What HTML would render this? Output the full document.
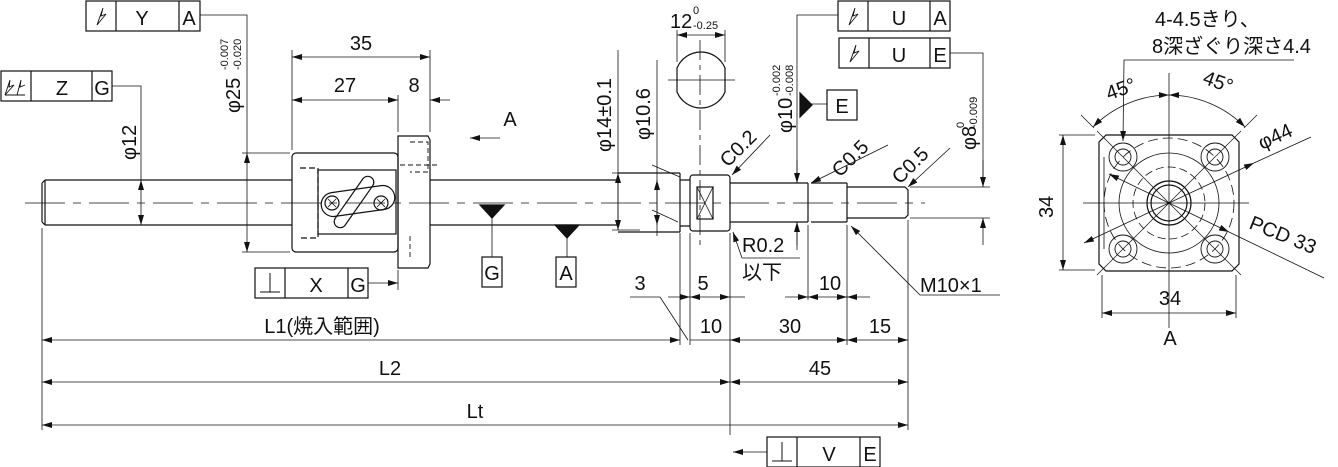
<!DOCTYPE html>
<html><head><meta charset="utf-8"><style>
html,body{margin:0;padding:0;background:#fff}
svg{display:block}
text{font-family:"Liberation Sans","Noto Sans CJK JP",sans-serif;fill:#111}
</style></head><body>
<svg width="1338" height="467" viewBox="0 0 1338 467" xmlns="http://www.w3.org/2000/svg">
<defs>
<marker id="a" viewBox="0 0 10 6" refX="10" refY="3" markerWidth="10" markerHeight="6" orient="auto-start-reverse" markerUnits="userSpaceOnUse"><path d="M0,0L10,3L0,6z" fill="#111"/></marker>
</defs>
<g stroke="#111" stroke-width="1.2" fill="none">
<line x1="25" y1="203" x2="925" y2="203" stroke-width="0.8" stroke-dasharray="40,8,8,8"/>
<path d="M45,180 H292 M45,225 H292 M42,183 V222 M42,183 L45,180 M42,222 L45,225"/>
<line x1="45" y1="180" x2="45" y2="225"/>
<path d="M430,180 H618 M430,225 H618"/>
<rect x="292" y="153" width="106" height="99" rx="4"/>
<path d="M300,168 H318 V238 H300" stroke-dasharray="6,3"/>
<rect x="318" y="170" width="78" height="64"/>
<rect x="321" y="189" width="74" height="24" rx="12" transform="rotate(-8 358 201)"/>
<rect x="348" y="172" width="12" height="60" rx="6" transform="rotate(35 354 202)"/>
<circle cx="332" cy="203" r="7"/><circle cx="381" cy="203" r="7"/>
<path d="M328,199 l8,8 M336,199 l-8,8 M377,199 l8,8 M385,199 l-8,8" stroke-width="0.8"/>
<path d="M398,136 H428 L430,140 V264 L428,268 H398 Z"/>
<path d="M410,142 H428 V172 H410 M410,236 V258 M400,165 H440" stroke-dasharray="5,3" stroke-width="0.9"/>
<path d="M618,173 H680 M618,232 H680 M680,173 V232"/>
<path d="M680,180 H690 M680,226 H690"/>
<rect x="690" y="175" width="40" height="56" rx="3"/>
<rect x="697" y="187" width="16" height="32"/>
<path d="M697,187 L713,219 M713,187 L697,219" stroke-width="0.8"/>
<path d="M730,183 H808 M730,222 H808 M808,183 V222 M811,183 H847 M811,222 H847 M847,183 V222 M847,187 H905 L908,190 V215 L905,218 H847"/>
<line x1="700" y1="40" x2="700" y2="250" stroke-width="0.8" stroke-dasharray="20,5,5,5"/>
<path d="M677,68 A26,26 0 0 1 725,68 V92 A26,26 0 0 1 677,92 Z"/>
<line x1="668" y1="80" x2="735" y2="80" stroke-width="0.8"/>
<line x1="677" y1="30" x2="677" y2="62" stroke-width="0.8"/><line x1="725" y1="30" x2="725" y2="62" stroke-width="0.8"/>
<line x1="677" y1="35" x2="725" y2="35" marker-start="url(#a)" marker-end="url(#a)" stroke-width="0.8"/>
<g stroke-width="0.8">
<line x1="292" y1="50" x2="292" y2="150"/><line x1="430" y1="50" x2="430" y2="132"/><line x1="398" y1="95" x2="398" y2="132"/>
<line x1="292" y1="57" x2="430" y2="57" marker-start="url(#a)" marker-end="url(#a)"/>
<line x1="292" y1="100" x2="398" y2="100" marker-start="url(#a)" marker-end="url(#a)"/>
<line x1="450" y1="100" x2="430" y2="100" marker-end="url(#a)"/>
<path d="M200,15 H247 V153"/><line x1="242" y1="153" x2="290" y2="153"/><line x1="242" y1="252" x2="290" y2="252"/>
<line x1="247" y1="153" x2="247" y2="252" marker-start="url(#a)" marker-end="url(#a)"/>
<path d="M112,86 H141 V180"/>
<line x1="141" y1="180" x2="141" y2="225" marker-start="url(#a)" marker-end="url(#a)"/>
<line x1="500" y1="138" x2="470" y2="138" marker-end="url(#a)"/>
<line x1="368" y1="283" x2="398" y2="283" marker-end="url(#a)"/><line x1="398" y1="270" x2="398" y2="290"/>
<line x1="492" y1="215" x2="492" y2="257"/><line x1="567" y1="235" x2="567" y2="257"/>
<line x1="618" y1="50" x2="618" y2="230"/><line x1="612" y1="173" x2="640" y2="173"/><line x1="612" y1="230" x2="640" y2="230"/>
<line x1="618" y1="173" x2="618" y2="230" marker-start="url(#a)" marker-end="url(#a)"/>
<line x1="657" y1="60" x2="657" y2="236"/>
<line x1="657" y1="180" x2="657" y2="225" marker-start="url(#a)" marker-end="url(#a)"/>
<line x1="652" y1="165" x2="680" y2="177"/><line x1="652" y1="210" x2="678" y2="222"/>
<path d="M838,15 H797 V183"/>
<line x1="797" y1="160" x2="797" y2="183" marker-end="url(#a)"/>
<line x1="797" y1="245" x2="797" y2="222" marker-end="url(#a)"/>
<line x1="797" y1="222" x2="797" y2="250"/>
<line x1="810" y1="104" x2="827" y2="104"/>
<path d="M950,53 H983 V187"/>
<line x1="983" y1="160" x2="983" y2="187" marker-end="url(#a)"/>
<line x1="983" y1="245" x2="983" y2="218" marker-end="url(#a)"/>
<line x1="910" y1="187" x2="990" y2="187"/><line x1="910" y1="218" x2="990" y2="218"/>
<line x1="770" y1="135" x2="732" y2="175" marker-end="url(#a)"/>
<line x1="888" y1="145" x2="811" y2="183" marker-end="url(#a)"/>
<line x1="950" y1="148" x2="908" y2="187" marker-end="url(#a)"/>
<path d="M742,258 L733,232" marker-end="url(#a)"/><line x1="742" y1="258" x2="800" y2="258"/>
<path d="M1000,295 H920 L851,226" marker-end="url(#a)"/>
<line x1="690" y1="233" x2="690" y2="345"/><line x1="730" y1="233" x2="730" y2="435"/><line x1="680" y1="233" x2="680" y2="345"/>
<line x1="808" y1="225" x2="808" y2="300"/><line x1="847" y1="225" x2="847" y2="345"/><line x1="908" y1="220" x2="908" y2="430"/>
<line x1="42" y1="228" x2="42" y2="430"/>
<line x1="630" y1="297" x2="660" y2="297"/><line x1="660" y1="297" x2="688" y2="340"/>
<line x1="668" y1="297" x2="690" y2="297" marker-end="url(#a)"/>
<line x1="690" y1="297" x2="730" y2="297" marker-start="url(#a)" marker-end="url(#a)"/>
<line x1="745" y1="297" x2="730" y2="297"/>
<line x1="785" y1="297" x2="808" y2="297" marker-end="url(#a)"/>
<line x1="808" y1="297" x2="847" y2="297" marker-start="url(#a)" marker-end="url(#a)"/>
<line x1="870" y1="297" x2="847" y2="297" marker-end="url(#a)"/>
<line x1="42" y1="340" x2="680" y2="340" marker-start="url(#a)" marker-end="url(#a)"/>
<line x1="690" y1="340" x2="730" y2="340"/>
<line x1="730" y1="340" x2="847" y2="340" marker-start="url(#a)" marker-end="url(#a)"/>
<line x1="847" y1="340" x2="908" y2="340" marker-start="url(#a)" marker-end="url(#a)"/>
<line x1="42" y1="382" x2="730" y2="382" marker-start="url(#a)" marker-end="url(#a)"/>
<line x1="730" y1="382" x2="908" y2="382" marker-start="url(#a)" marker-end="url(#a)"/>
<line x1="42" y1="425" x2="908" y2="425" marker-start="url(#a)" marker-end="url(#a)"/>
<line x1="767" y1="452" x2="733" y2="452" marker-end="url(#a)"/>
</g>
<path d="M480,205 H504 L492,218 Z M555,225 H579 L567,238 Z M800,93 V117 L812,105 Z" fill="#111"/>
<rect x="86" y="1" width="114" height="30"/><line x1="116" y1="1" x2="116" y2="31"/><line x1="179" y1="1" x2="179" y2="31"/>
<rect x="1" y="71" width="111" height="30"/><line x1="31" y1="71" x2="31" y2="101"/><line x1="92" y1="71" x2="92" y2="101"/>
<rect x="255" y="268" width="113" height="30"/><line x1="285" y1="268" x2="285" y2="298"/><line x1="348" y1="268" x2="348" y2="298"/>
<rect x="838" y="1" width="112" height="30"/><line x1="868" y1="1" x2="868" y2="31"/><line x1="930" y1="1" x2="930" y2="31"/>
<rect x="839" y="38" width="111" height="30"/><line x1="869" y1="38" x2="869" y2="68"/><line x1="930" y1="38" x2="930" y2="68"/>
<rect x="767" y="437" width="113" height="30"/><line x1="797" y1="437" x2="797" y2="467"/><line x1="860" y1="437" x2="860" y2="467"/>
<rect x="482" y="257" width="20" height="30"/><rect x="556" y="257" width="20" height="30"/><rect x="827" y="90" width="30" height="30"/>
<path d="M97,25 L103,8 L101,16 L106,14 Z M849,25 L855,8 L853,16 L858,14 Z M850,62 L856,45 L854,53 L859,51 Z" stroke-width="0.9"/>
<path d="M5,95 H25 M5,95 L10,80 L9,87 L14,85 Z M17,95 L21,80 L20,87 L25,85" stroke-width="0.9"/>
<path d="M260,292 H280 M270,292 V273 M772,461 H792 M782,461 V442" stroke-width="1"/>
<g transform="translate(1169,203)">
<path d="M-63,-68 H63 L70,-61 V61 L63,68 H-63 L-70,61 V-61 Z"/>
<path d="M-65,-46 V46 M-68,0 H80 M-86,0 H-68 M0,-130 V125" stroke-width="0.8"/>
<circle r="22"/><circle r="18"/>
<circle r="36" stroke-dasharray="8,4" stroke-width="0.8"/>
<circle r="65" stroke-dasharray="10,5" stroke-width="0.8"/>
<circle r="50" stroke-width="0.8"/>
<g stroke-width="0.9">
<circle cx="-46" cy="-46" r="14"/><circle cx="-46" cy="-46" r="8"/>
<circle cx="46" cy="-46" r="14"/><circle cx="46" cy="-46" r="8"/>
<circle cx="-46" cy="46" r="14"/><circle cx="-46" cy="46" r="8"/>
<circle cx="46" cy="46" r="14"/><circle cx="46" cy="46" r="8"/>
<path d="M-72,-72 L72,72 M72,-72 L-72,72" stroke-width="0.7"/>
</g>
<path d="M-76,-76 A108,108 0 0 1 0,-108" stroke-width="0.8" marker-start="url(#a)" marker-end="url(#a)"/>
<path d="M0,-108 A108,108 0 0 1 76,-76" stroke-width="0.8" marker-start="url(#a)" marker-end="url(#a)"/>
<line x1="-88" y1="-88" x2="-75" y2="-75" stroke-width="0.7"/><line x1="88" y1="-88" x2="75" y2="-75" stroke-width="0.7"/>
<line x1="-85" y1="40" x2="85" y2="-40" marker-start="url(#a)" marker-end="url(#a)" stroke-width="0.8"/>
<line x1="85" y1="-40" x2="142" y2="-66" stroke-width="0.8"/>
<line x1="-60" y1="-29" x2="60" y2="29" marker-start="url(#a)" marker-end="url(#a)" stroke-width="0.8"/>
<line x1="60" y1="29" x2="155" y2="75" stroke-width="0.8"/>
<path d="M125,-143 H-45 L-46,-62" stroke-width="0.8" marker-end="url(#a)"/>
<line x1="-110" y1="-68" x2="-74" y2="-68" stroke-width="0.8"/><line x1="-110" y1="67" x2="-74" y2="67" stroke-width="0.8"/>
<line x1="-106" y1="-68" x2="-106" y2="67" marker-start="url(#a)" marker-end="url(#a)" stroke-width="0.8"/>
<line x1="-67" y1="72" x2="-67" y2="115" stroke-width="0.8"/><line x1="67" y1="72" x2="67" y2="115" stroke-width="0.8"/>
<line x1="-67" y1="110" x2="67" y2="110" marker-start="url(#a)" marker-end="url(#a)" stroke-width="0.8"/>
</g>
</g>
<g font-size="20">
<text x="142" y="25" text-anchor="middle">Y</text><text x="189" y="25" text-anchor="middle">A</text>
<text x="62" y="95" text-anchor="middle">Z</text><text x="102" y="95" text-anchor="middle">G</text>
<text x="316" y="292" text-anchor="middle">X</text><text x="358" y="292" text-anchor="middle">G</text>
<text x="899" y="25" text-anchor="middle">U</text><text x="940" y="25" text-anchor="middle">A</text>
<text x="899" y="62" text-anchor="middle">U</text><text x="940" y="62" text-anchor="middle">E</text>
<text x="829" y="461" text-anchor="middle">V</text><text x="870" y="461" text-anchor="middle">E</text>
<text x="492" y="280" text-anchor="middle">G</text><text x="566" y="280" text-anchor="middle">A</text><text x="842" y="113" text-anchor="middle">E</text>
<text x="361" y="50" text-anchor="middle">35</text><text x="345" y="92" text-anchor="middle">27</text><text x="414" y="92" text-anchor="middle">8</text>
<text x="510" y="126" text-anchor="middle">A</text>
<text x="670" y="28">12</text>
<text x="693" y="14" font-size="11">0</text><text x="693" y="29" font-size="11">-0.25</text>
<text transform="translate(136,160) rotate(-90)">φ12</text>
<text transform="translate(240,113) rotate(-90)">φ25</text>
<text transform="translate(228,70) rotate(-90)" font-size="11">-0.007</text>
<text transform="translate(241,70) rotate(-90)" font-size="11">-0.020</text>
<text transform="translate(611,152) rotate(-90)">φ14±0.1</text>
<text transform="translate(650,140) rotate(-90)">φ10.6</text>
<text transform="translate(792,133) rotate(-90)">φ10</text>
<text transform="translate(780,96) rotate(-90)" font-size="11">-0.002</text>
<text transform="translate(793,96) rotate(-90)" font-size="11">-0.008</text>
<text transform="translate(976,150) rotate(-90)">φ8</text>
<text transform="translate(964,128) rotate(-90)" font-size="11">0</text>
<text transform="translate(977,128) rotate(-90)" font-size="11">-0.009</text>
<text transform="translate(728,168) rotate(-45)">C0.2</text>
<text transform="translate(840,178) rotate(-45)">C0.5</text>
<text transform="translate(900,185) rotate(-45)">C0.5</text>
<text x="742" y="252">R0.2</text><text x="742" y="279">以下</text>
<text x="920" y="292">M10×1</text>
<text x="640" y="290" text-anchor="middle">3</text><text x="703" y="290" text-anchor="middle">5</text><text x="830" y="290" text-anchor="middle">10</text>
<text x="711" y="333" text-anchor="middle">10</text><text x="790" y="333" text-anchor="middle">30</text><text x="880" y="333" text-anchor="middle">15</text>
<text x="322" y="333" text-anchor="middle">L1(焼入範囲)</text>
<text x="390" y="375" text-anchor="middle">L2</text><text x="820" y="375" text-anchor="middle">45</text>
<text x="475" y="418" text-anchor="middle">Lt</text>
<text x="1155" y="26">4-4.5きり、</text>
<text x="1152" y="53">8深ざぐり深さ4.4</text>
<text x="1106" y="96" transform="rotate(-20 1120 90)">45°</text>
<text x="1200" y="88" transform="rotate(20 1215 90)">45°</text>
<text x="1262" y="150" transform="rotate(-25 1262 150)">φ44</text>
<text x="1248" y="228" transform="rotate(22 1248 228)">PCD 33</text>
<text transform="translate(1053,218) rotate(-90)">34</text>
<text x="1170" y="305" text-anchor="middle">34</text>
<text x="1170" y="345" text-anchor="middle">A</text>
</g>
</svg>
</body></html>
